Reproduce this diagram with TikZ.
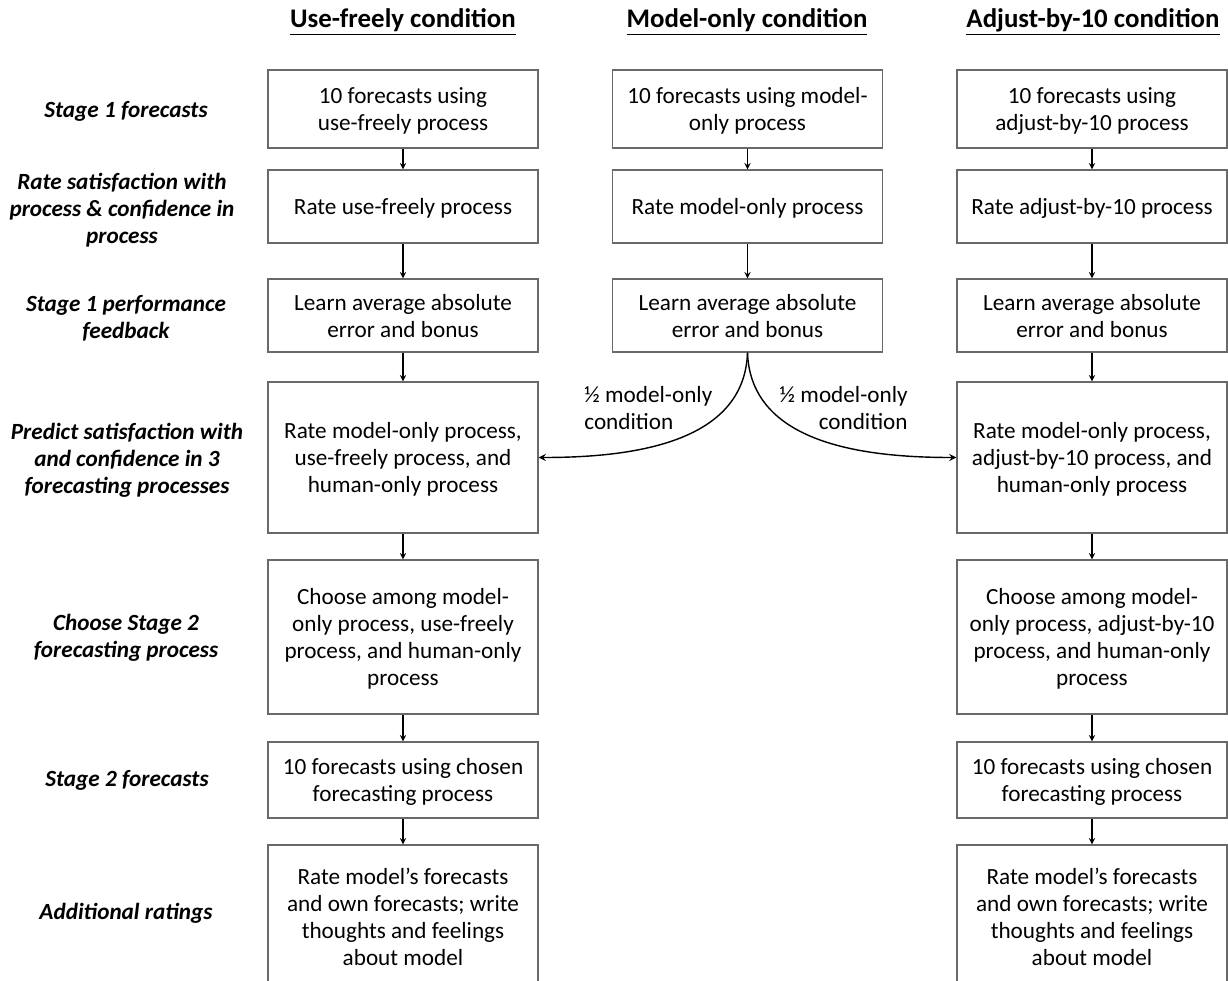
\documentclass[tikz,border=0pt]{standalone}
\usepackage{fontspec}
\setmainfont{Carlito}
\usepackage{tikz}
\usetikzlibrary{positioning}
\definecolor{boxline}{RGB}{105,105,105}

\begin{document}
\begin{tikzpicture}[x=0.02cm, y=-0.02cm, >=stealth, line width=0.6pt,
    box/.style={draw=boxline, line width=0.8pt, align=center, minimum width=5.4cm, inner sep=2pt,
      text depth=0pt, font=\fontsize{13.2}{15.4}\selectfont},
    stage/.style={align=center, font=\fontsize{13.2}{15.4}\selectfont\bfseries\itshape},
    cond/.style={font=\fontsize{15.3}{18}\selectfont\bfseries},
    split/.style={align=left, font=\fontsize{13.2}{15.4}\selectfont}]
    \clip (0,0) rectangle (1228,981);

    % Titulos
    \node[cond] (hUF) at (403,22) {\underline{Use-freely condition}};
    \node[cond] (hMO) at (747,22) {\underline{Model-only condition}};
    \node[cond] (hAB) at (1093,22) {\underline{Adjust-by-10 condition}};

    % Etapas
    \node[stage] (s1) at (126,111) {Stage 1 forecasts};
    \node[stage] (s2) at (122,210) {Rate satisfaction with\\process \& confidence in\\process};
    \node[stage] (s3) at (126,318) {Stage 1 performance\\feedback};
    \node[stage] (s4) at (127,460) {Predict satisfaction with\\and confidence in 3\\forecasting processes};
    \node[stage] (s5) at (126,638) {Choose Stage 2\\forecasting process};
    \node[stage] (s6) at (127,780) {Stage 2 forecasts};
    \node[stage] (s7) at (126,913) {Additional ratings};

    % Use-freely
    \node[box, minimum height=1.56cm] (uf1) at (403,109) {10 forecasts using\\use-freely process};
    \node[box, minimum height=1.46cm] (uf2) at (403,206.5) {Rate use-freely process};
    \node[box, minimum height=1.46cm] (uf3) at (403,315.5) {Learn average absolute\\error and bonus};
    \node[box, minimum height=3.02cm] (uf4) at (403,457.5) {Rate model-only process,\\use-freely process, and\\human-only process};
    \node[box, minimum height=3.08cm] (uf5) at (403,637) {Choose among model-\\only process, use-freely\\process, and human-only\\process};
    \node[box, minimum height=1.52cm] (uf6) at (403,780) {10 forecasts using chosen\\forecasting process};
    \node[box, minimum height=2.88cm] (uf7) at (403,917) {Rate model’s forecasts\\and own forecasts; write\\thoughts and feelings\\about model};

    % Model-only
    \node[box, minimum height=1.56cm] (mo1) at (747.5,109) {10 forecasts using model-\\only process};
    \node[box, minimum height=1.46cm] (mo2) at (747.5,206.5) {Rate model-only process};
    \node[box, minimum height=1.46cm] (mo3) at (747.5,315.5) {Learn average absolute\\error and bonus};

    % Adjust-by-10
    \node[box, minimum height=1.56cm] (ab1) at (1092,109) {10 forecasts using\\adjust-by-10 process};
    \node[box, minimum height=1.46cm] (ab2) at (1092,206.5) {Rate adjust-by-10 process};
    \node[box, minimum height=1.46cm] (ab3) at (1092,315.5) {Learn average absolute\\error and bonus};
    \node[box, minimum height=3.02cm] (ab4) at (1092,457.5) {Rate model-only process,\\adjust-by-10 process, and\\human-only process};
    \node[box, minimum height=3.08cm] (ab5) at (1092,637) {Choose among model-\\only process, adjust-by-10\\process, and human-only\\process};
    \node[box, minimum height=1.52cm] (ab6) at (1092,780) {10 forecasts using chosen\\forecasting process};
    \node[box, minimum height=2.88cm] (ab7) at (1092,917) {Rate model’s forecasts\\and own forecasts; write\\thoughts and feelings\\about model};

    % Flechas
    \foreach \a/\b in {uf1/uf2, uf2/uf3, uf3/uf4, uf4/uf5, uf5/uf6, uf6/uf7,
                       mo1/mo2, mo2/mo3,
                       ab1/ab2, ab2/ab3, ab3/ab4, ab4/ab5, ab5/ab6, ab6/ab7}
        \draw[->] (\a) -- (\b);

    % Division del grupo model-only
    \draw[->, line width=0.8pt] (mo3.south) to[out=-92, in=0] (uf4.east);
    \draw[->, line width=0.8pt] (mo3.south) to[out=-88, in=180] (ab4.west);
    \node[split, anchor=west] (lblL) at (578,408) {½ model-only\\condition};
    \node[split, anchor=east, align=right] (lblR) at (914,408) {½ model-only\\condition};
\end{tikzpicture}
\end{document}
